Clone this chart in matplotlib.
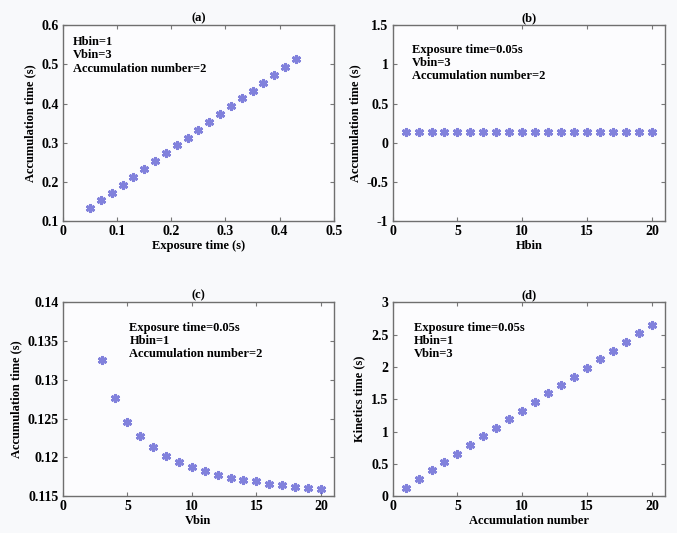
import numpy as np
import matplotlib.pyplot as plt
from matplotlib.ticker import FormatStrFormatter

plt.rcParams['font.family'] = ['Liberation Serif', 'DejaVu Serif']
plt.rcParams['font.weight'] = 'bold'

# (a) accumulation time vs exposure time
exposure_a = [0.05, 0.07, 0.09, 0.11, 0.13, 0.15, 0.17, 0.19, 0.21, 0.23,
              0.25, 0.27, 0.29, 0.31, 0.33, 0.35, 0.37, 0.39, 0.41, 0.43]
accum_a = [0.133, 0.153, 0.173, 0.193, 0.213, 0.233, 0.253, 0.273, 0.293, 0.313,
           0.333, 0.353, 0.373, 0.393, 0.413, 0.433, 0.453, 0.473, 0.493, 0.513]

# (b) accumulation time vs Hbin
hbin_b = list(range(1, 21))
accum_b = [0.133] * 20

# (c) accumulation time vs Vbin
vbin_c = list(range(3, 21))
accum_c = [0.1325, 0.1276, 0.1246, 0.1228, 0.1213, 0.1202, 0.1194, 0.1188, 0.1182,
           0.1177, 0.1174, 0.1171, 0.1169, 0.1166, 0.1164, 0.1162, 0.1160, 0.1159]

# (d) kinetics time vs accumulation number
accnum_d = list(range(1, 21))
kinetics_d = [0.13, 0.26, 0.40, 0.53, 0.66, 0.79, 0.93, 1.06, 1.19, 1.32,
              1.46, 1.59, 1.72, 1.85, 1.99, 2.12, 2.25, 2.38, 2.52, 2.65]

fig = plt.figure(figsize=(6.77, 5.33), dpi=100, facecolor='#f8f9fb')

panels = [
    dict(pos=[0.093, 0.585, 0.400, 0.368], x=exposure_a, y=accum_a, title='(a)',
         xlabel='Exposure time (s)', ylabel='Accumulation time (s)',
         xlim=(0, 0.5), ylim=(0.1, 0.6), xticks=np.arange(0, 0.51, 0.1),
         yticks=np.arange(0.1, 0.61, 0.1),
         text='Hbin=1\nVbin=3\nAccumulation number=2', tpos=(0.037, 0.945)),
    dict(pos=[0.580, 0.585, 0.402, 0.368], x=hbin_b, y=accum_b, title='(b)',
         xlabel='Hbin', ylabel='Accumulation time (s)',
         xlim=(0, 21), ylim=(-1, 1.5), xticks=[0, 5, 10, 15, 20],
         yticks=[-1, -0.5, 0, 0.5, 1, 1.5],
         text='Exposure time=0.05s\nVbin=3\nAccumulation number=2', tpos=(0.07, 0.905)),
    dict(pos=[0.093, 0.069, 0.400, 0.364], x=vbin_c, y=accum_c, title='(c)',
         xlabel='Vbin', ylabel='Accumulation time (s)',
         xlim=(0, 21), ylim=(0.115, 0.14), xticks=[0, 5, 10, 15, 20],
         yticks=[0.115, 0.12, 0.125, 0.13, 0.135, 0.14],
         text='Exposure time=0.05s\nHbin=1\nAccumulation number=2', tpos=(0.245, 0.9)),
    dict(pos=[0.580, 0.069, 0.402, 0.364], x=accnum_d, y=kinetics_d, title='(d)',
         xlabel='Accumulation number', ylabel='Kinetics time (s)',
         xlim=(0, 21), ylim=(0, 3), xticks=[0, 5, 10, 15, 20],
         yticks=[0, 0.5, 1, 1.5, 2, 2.5, 3],
         text='Exposure time=0.05s\nHbin=1\nVbin=3', tpos=(0.077, 0.9)),
]

for p in panels:
    ax = fig.add_axes(p['pos'], facecolor='#fcfcfe')
    # MATLAB-style asterisk markers
    ax.plot(p['x'], p['y'], linestyle='none', marker=(6, 2, 0), markersize=6.5,
            color='#6262d4', markeredgewidth=2.0, alpha=0.8)
    ax.set_xlim(*p['xlim'])
    ax.set_ylim(*p['ylim'])
    ax.set_xticks(p['xticks'])
    ax.set_yticks(p['yticks'])
    ax.xaxis.set_major_formatter(FormatStrFormatter('%g'))
    ax.yaxis.set_major_formatter(FormatStrFormatter('%g'))
    ax.tick_params(direction='in', top=True, right=True, length=3, width=0.8,
                   color='#777777', labelsize=10, pad=3)
    for s in ax.spines.values():
        s.set_color('#6f6f6f')
        s.set_linewidth(1.0)
    ax.set_xlabel(p['xlabel'], fontsize=9, fontweight='bold', labelpad=1)
    ax.set_ylabel(p['ylabel'], fontsize=9, fontweight='bold', labelpad=4)
    ax.set_title(p['title'], fontsize=9, fontweight='bold', pad=3)
    ax.text(p['tpos'][0], p['tpos'][1], p['text'], transform=ax.transAxes,
            fontsize=9, fontweight='bold', va='top', ha='left', linespacing=1.15)

fig.savefig('out.png', dpi=100, facecolor=fig.get_facecolor())
